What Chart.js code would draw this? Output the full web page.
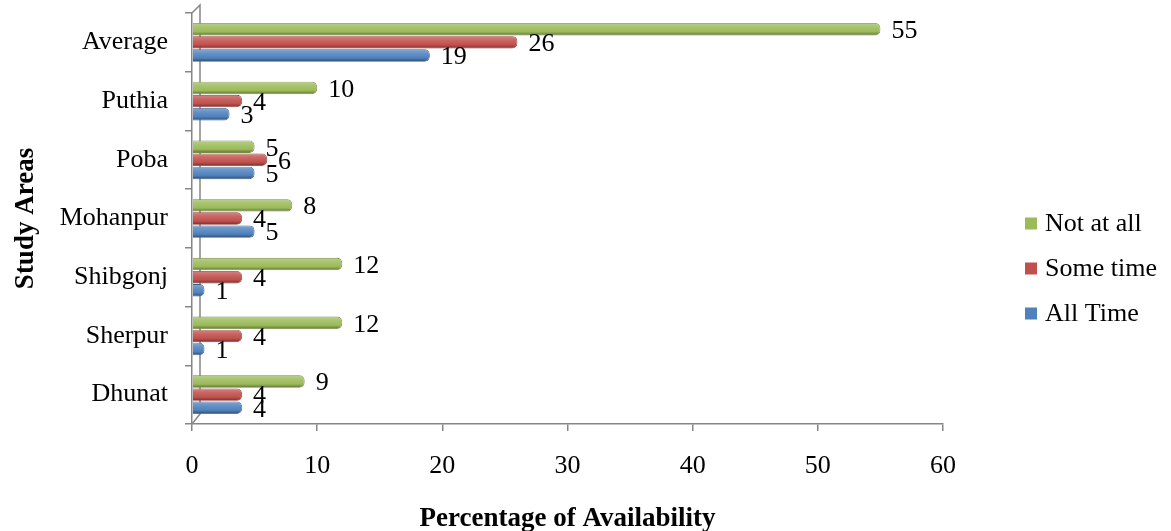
<!DOCTYPE html>
<html>
<head>
<meta charset="utf-8">
<script src="https://cdn.jsdelivr.net/npm/chart.js@4.4.1/dist/chart.umd.min.js"></script>
<style>
  html, body { margin: 0; padding: 0; background: #fff; }
</style>
</head>
<body>
<canvas id="availabilityChart" width="1171" height="531"></canvas>
<script>
// Donnees (de haut en bas)
const studyAreas = ['Average', 'Puthia', 'Poba', 'Mohanpur', 'Shibgonj', 'Sherpur', 'Dhunat'];
const notAtAll = [55, 10, 5, 8, 12, 12, 9];
const someTime = [26, 4, 6, 4, 4, 4, 4];
const allTime = [19, 3, 5, 5, 1, 1, 4];
const xTicks = [0, 10, 20, 30, 40, 50, 60];

const AXIS_GREY = '#868686';
const FONT = '"Liberation Serif", "Times New Roman", serif';

// melange d'une couleur hex avec une autre
function mix(hex, other, t) {
    const a = parseInt(hex.slice(1), 16), b = parseInt(other.slice(1), 16);
    const ch = (v, s) => (v >> s) & 255;
    const m = s => Math.round(ch(a, s) + (ch(b, s) - ch(a, s)) * t);
    return `rgb(${m(16)}, ${m(8)}, ${m(0)})`;
}

// effet cylindre : degrade sur l'epaisseur de chaque barre
const shade3d = {
    id: 'shade3d',
    beforeDatasetsDraw(chart) {
        const c = chart.ctx;
        chart.data.datasets.forEach((ds, i) => {
            chart.getDatasetMeta(i).data.forEach(bar => {
                const top = bar.y - bar.height / 2;
                const bottom = bar.y + bar.height / 2;
                const g = c.createLinearGradient(0, top, 0, bottom);
                g.addColorStop(0, mix(ds.baseColor, '#ffffff', 0.3));
                g.addColorStop(0.35, mix(ds.baseColor, '#ffffff', 0.12));
                g.addColorStop(0.7, ds.baseColor);
                g.addColorStop(1, mix(ds.baseColor, '#000000', 0.4));
                bar.options.backgroundColor = g;
                bar.options.borderColor = mix(ds.baseColor, '#000000', 0.25);
            });
        });
    }
};

// paroi du fond (graphique 3D)
const backWall = {
    id: 'backWall',
    beforeDatasetsDraw(chart) {
        const { left, top, bottom } = chart.chartArea;
        const c = chart.ctx;
        c.save();
        c.strokeStyle = AXIS_GREY;
        c.lineWidth = 1.5;
        c.beginPath();
        c.moveTo(left, top);
        c.lineTo(left + 8, top - 8);
        c.lineTo(left + 8, bottom - 10);
        c.lineTo(left, bottom);
        c.stroke();
        c.restore();
    }
};

// etiquettes de valeurs a droite des barres
const valueLabels = {
    id: 'valueLabels',
    afterDatasetsDraw(chart) {
        const c = chart.ctx;
        c.save();
        c.font = `26px ${FONT}`;
        c.fillStyle = '#000';
        c.textBaseline = 'middle';
        c.textAlign = 'left';
        chart.data.datasets.forEach((ds, i) => {
            chart.getDatasetMeta(i).data.forEach((bar, j) => {
                c.fillText(String(ds.data[j]), bar.x + 11, bar.y + 2);
            });
        });
        c.restore();
    }
};

// legende a droite
const sideLegend = {
    id: 'sideLegend',
    afterDraw(chart) {
        const c = chart.ctx;
        const x = chart.chartArea.right + 82;
        let y = chart.height / 2 - 42;
        c.save();
        c.font = `26px ${FONT}`;
        c.textBaseline = 'middle';
        chart.data.datasets.forEach(ds => {
            c.fillStyle = ds.baseColor;
            c.fillRect(x, y - 6, 12, 12);
            c.fillStyle = '#000';
            c.fillText(ds.label, x + 20, y + 1);
            y += 45;
        });
        c.restore();
    }
};

function serie(label, data, couleur) {
    return {
        label: label,
        data: data,
        baseColor: couleur,
        backgroundColor: ctx => couleur,
        borderColor: ctx => couleur,
        borderWidth: 0.8,
        borderSkipped: 'start',
        borderRadius: 5,
        categoryPercentage: 0.67,
        barPercentage: 0.95
    };
}

new Chart(document.getElementById('availabilityChart').getContext('2d'), {
    type: 'bar',
    data: {
        labels: studyAreas,
        datasets: [
            serie('Not at all', notAtAll, '#9BBB59'),
            serie('Some time', someTime, '#C0504D'),
            serie('All Time', allTime, '#4F81BD')
        ]
    },
    options: {
        indexAxis: 'y',
        responsive: false,
        animation: false,
        layout: { padding: { top: 13, right: 228, left: 0, bottom: 0 } },
        plugins: {
            legend: { display: false },
            tooltip: { enabled: false }
        },
        scales: {
            x: {
                min: xTicks[0],
                max: xTicks[xTicks.length - 1],
                afterBuildTicks: scale => { scale.ticks = xTicks.map(v => ({ value: v })); },
                afterFit: scale => { scale.height = 107; },
                border: { display: true, color: AXIS_GREY, width: 1.5 },
                grid: { drawOnChartArea: false, drawTicks: true, tickLength: 7, color: AXIS_GREY, lineWidth: 1.5 },
                ticks: { color: '#000', padding: 20, font: { family: FONT, size: 26 } },
                title: {
                    display: true,
                    text: 'Percentage of Availability',
                    color: '#000',
                    padding: { top: 0, bottom: -4 },
                    font: { family: FONT, size: 27, weight: 'bold' }
                }
            },
            y: {
                afterFit: scale => {
                    scale.width = 192;
                    scale.paddingTop = 0;
                    scale.paddingBottom = 0;
                },
                border: { display: true, color: AXIS_GREY, width: 1.5 },
                grid: { drawOnChartArea: false, drawTicks: true, tickLength: 7, color: AXIS_GREY, lineWidth: 1.5 },
                ticks: { color: '#000', padding: 17, font: { family: FONT, size: 26 } },
                title: {
                    display: true,
                    text: 'Study Areas',
                    color: '#000',
                    padding: { top: 10, bottom: 0 },
                    font: { family: FONT, size: 27, weight: 'bold' }
                }
            }
        }
    },
    plugins: [backWall, shade3d, valueLabels, sideLegend]
});
</script>
</body>
</html>
